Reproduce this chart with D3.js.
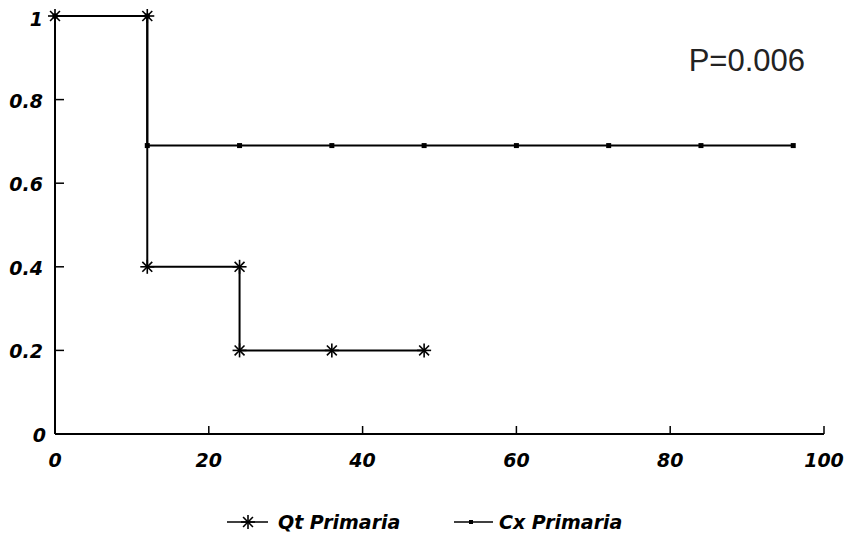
<!DOCTYPE html>
<html>
<head>
<meta charset="utf-8">
<script src="https://cdn.jsdelivr.net/npm/d3@7"></script>
<style>
  body { margin: 0; background: #fff; }
  svg { display: block; }
  .tick-label { font-family: "DejaVu Sans", sans-serif; font-weight: bold; font-style: italic; font-size: 19px; fill: #000; }
</style>
</head>
<body>
<div id="chart"></div>
<script>
// Survival data (months vs. proportion)
const qtMonths = [0, 12, 12, 24, 24, 36, 48];
const qtSurv   = [1, 1, 0.4, 0.4, 0.2, 0.2, 0.2];
const cxMonths = [0, 12, 12, 24, 36, 48, 60, 72, 84, 96];
const cxSurv   = [1, 1, 0.69, 0.69, 0.69, 0.69, 0.69, 0.69, 0.69, 0.69];
const xTicks = [0, 20, 40, 60, 80, 100];
const yTicks = [0, 0.2, 0.4, 0.6, 0.8, 1];
const seriesNames = ["Qt Primaria", "Cx Primaria"];
const pValue = "P=0.006";

const width = 847, height = 538;

const svg = d3.select("#chart")
    .append("svg")
    .attr("width", width)
    .attr("height", height);

const x = d3.scaleLinear().domain([0, 100]).range([55, 824]);
const y = d3.scaleLinear().domain([0, 1]).range([434, 16]);

// axes lines
svg.append("line")
    .attr("x1", x(0)).attr("x2", x(0))
    .attr("y1", y(1)).attr("y2", y(0))
    .attr("stroke", "#000").attr("stroke-width", 2);
svg.append("line")
    .attr("x1", x(0)).attr("x2", x(100))
    .attr("y1", y(0)).attr("y2", y(0))
    .attr("stroke", "#000").attr("stroke-width", 2);

// y ticks (pointing inside)
svg.selectAll(".ytick")
    .data(yTicks.filter(d => d > 0 && d < 1))
    .enter().append("line")
    .attr("x1", x(0)).attr("x2", x(0) + 9)
    .attr("y1", d => y(d)).attr("y2", d => y(d))
    .attr("stroke", "#000").attr("stroke-width", 1.5);

svg.selectAll(".ylabel")
    .data(yTicks)
    .enter().append("text")
    .attr("class", "tick-label")
    .attr("x", d => d === 0 ? 46 : 43)
    .attr("y", d => d === 0 ? y(d) + 8 : (d === 1 ? y(d) + 10 : y(d) + 8))
    .attr("text-anchor", "end")
    .text(d => d3.format("~g")(d));

// x ticks (pointing up)
svg.selectAll(".xtick")
    .data(xTicks.filter(d => d > 0))
    .enter().append("line")
    .attr("x1", d => x(d)).attr("x2", d => x(d))
    .attr("y1", y(0)).attr("y2", y(0) - 8)
    .attr("stroke", "#000").attr("stroke-width", 1.5);

svg.selectAll(".xlabel")
    .data(xTicks)
    .enter().append("text")
    .attr("class", "tick-label")
    .attr("x", d => x(d))
    .attr("y", 467)
    .attr("text-anchor", "middle")
    .text(d => d);

// lines
const line = d3.line().x(d => x(d[0])).y(d => y(d[1]));
const cxPts = cxMonths.map((m, i) => [m, cxSurv[i]]);
const qtPts = qtMonths.map((m, i) => [m, qtSurv[i]]);

svg.append("path").datum(cxPts)
    .attr("d", line).attr("fill", "none")
    .attr("stroke", "#000").attr("stroke-width", 2);
svg.append("path").datum(qtPts)
    .attr("d", line).attr("fill", "none")
    .attr("stroke", "#000").attr("stroke-width", 2);

// markers
function star(g, cx, cy, r) {
    for (let k = 0; k < 4; k++) {
        const a = k * Math.PI / 4;
        g.append("line")
            .attr("x1", cx - r * Math.cos(a)).attr("y1", cy - r * Math.sin(a))
            .attr("x2", cx + r * Math.cos(a)).attr("y2", cy + r * Math.sin(a))
            .attr("stroke", "#000").attr("stroke-width", 1.6);
    }
}
function dot(g, cx, cy, s) {
    g.append("rect")
        .attr("x", cx - s / 2).attr("y", cy - s / 2)
        .attr("width", s).attr("height", s)
        .attr("fill", "#000");
}

const mk = svg.append("g");
cxPts.forEach(p => dot(mk, x(p[0]), y(p[1]), 5));
qtPts.forEach(p => star(mk, x(p[0]), y(p[1]), 7));

// p value
svg.append("text")
    .attr("x", 805).attr("y", 71)
    .attr("text-anchor", "end")
    .style("font-family", "'Liberation Sans', Arial, sans-serif")
    .style("font-size", "31px")
    .attr("fill", "#222")
    .text(pValue);

// legend
const leg = svg.append("g");
leg.append("line").attr("x1", 227).attr("x2", 268).attr("y1", 522).attr("y2", 522)
    .attr("stroke", "#000").attr("stroke-width", 1.6);
star(leg, 248, 522, 7);
leg.append("text").attr("class", "tick-label").attr("x", 278).attr("y", 529).text(seriesNames[0]);

leg.append("line").attr("x1", 454).attr("x2", 493).attr("y1", 522).attr("y2", 522)
    .attr("stroke", "#000").attr("stroke-width", 1.6);
dot(leg, 471, 522, 4);
leg.append("text").attr("class", "tick-label").attr("x", 499).attr("y", 529).text(seriesNames[1]);
</script>
</body>
</html>
